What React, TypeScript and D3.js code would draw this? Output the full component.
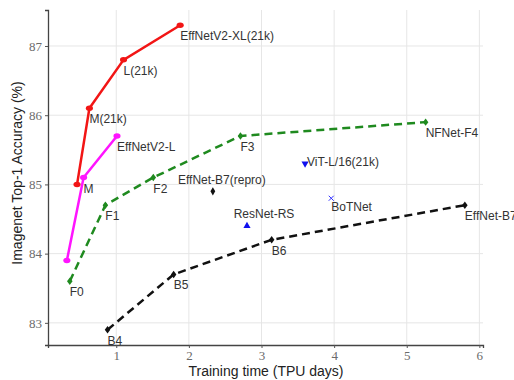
import React, { useEffect, useRef } from "react";
import * as d3 from "d3";

// values
const v2_21kLabels = ["", "M(21k)", "L(21k)", "EffNetV2-XL(21k)"];
const v2_21kX = [0.46, 0.63, 1.1, 1.88];
const v2_21kY = [85.0, 86.1, 86.8, 87.3];

const v2Labels = ["", "M", "EffNetV2-L"];
const v2X = [0.32, 0.55, 1.01];
const v2Y = [83.9, 85.1, 85.7];

const nfnetLabels = ["F0", "F1", "F2", "F3", "NFNet-F4"];
const nfnetX = [0.36, 0.85, 1.51, 2.71, 5.26];
const nfnetY = [83.6, 84.7, 85.1, 85.7, 85.9];

const effnetLabels = ["B4", "B5", "B6", "EffNet-B7"];
const effnetX = [0.88, 1.79, 3.14, 5.8];
const effnetY = [82.9, 83.7, 84.2, 84.7];

const otherLabels = ["EffNet-B7(repro)", "ResNet-RS", "ViT-L/16(21k)", "BoTNet"];
const otherX = [2.33, 2.8, 3.6, 3.96];
const otherY = [84.9, 84.4, 85.3, 84.8];

const xTicks = [1, 2, 3, 4, 5, 6];
const yTicks = [83, 84, 85, 86, 87];

const App = () => {
  const svgRef = useRef<SVGSVGElement>(null);

  useEffect(() => {
    const svg = d3.select(svgRef.current);
    svg.selectAll("*").remove();

    const left = 48, right = 483, top = 10, bottom = 345;

    const x = d3.scaleLinear().domain([0.06, 6.05]).range([left, right]);
    const y = d3.scaleLinear().domain([82.68, 87.52]).range([bottom, top]);

    const sans = "'Liberation Sans', Arial, sans-serif";
    const serif = "'Liberation Serif', 'Times New Roman', serif";

    // grid
    svg.append("g")
      .selectAll("line")
      .data(xTicks)
      .join("line")
      .attr("x1", d => x(d)).attr("x2", d => x(d))
      .attr("y1", top).attr("y2", bottom)
      .attr("stroke", "#e6e6e6").attr("stroke-width", 1);
    svg.append("g")
      .selectAll("line")
      .data(yTicks)
      .join("line")
      .attr("x1", left).attr("x2", right)
      .attr("y1", d => y(d)).attr("y2", d => y(d))
      .attr("stroke", "#e6e6e6").attr("stroke-width", 1);

    // axes
    const xAxis = svg.append("g")
      .attr("transform", `translate(0,${bottom})`)
      .call(d3.axisBottom(x).tickValues(xTicks).tickSize(3).tickPadding(3).tickFormat(d3.format("d")));
    const yAxis = svg.append("g")
      .attr("transform", `translate(${left},0)`)
      .call(d3.axisLeft(y).tickValues(yTicks).tickSize(3).tickPadding(3).tickFormat(d3.format("d")));
    [xAxis, yAxis].forEach(g => {
      g.select(".domain").attr("stroke", "#444").attr("stroke-width", 1.3);
      g.selectAll(".tick line").attr("stroke", "#555");
      g.selectAll(".tick text")
        .attr("fill", "#6b6b6b")
        .style("font-family", serif)
        .style("font-size", "13px");
    });

    const line = d3.line<[number, number]>()
      .x(d => x(d[0]))
      .y(d => y(d[1]));

    const series = [
      { xs: v2_21kX, ys: v2_21kY, labels: v2_21kLabels, color: "#f21515", dash: null, sym: d3.symbolCircle, size: 30 },
      { xs: v2X, ys: v2Y, labels: v2Labels, color: "#ff14ff", dash: null, sym: d3.symbolCircle, size: 30 },
      { xs: nfnetX, ys: nfnetY, labels: nfnetLabels, color: "#1f8a1f", dash: "8,5", sym: d3.symbolDiamond, size: 20 },
      { xs: effnetX, ys: effnetY, labels: effnetLabels, color: "#111", dash: "8,5", sym: d3.symbolDiamond, size: 20 },
    ];

    series.forEach(s => {
      const pts: [number, number][] = s.xs.map((v, i) => [v, s.ys[i]]);
      svg.append("path")
        .datum(pts)
        .attr("fill", "none")
        .attr("stroke", s.color)
        .attr("stroke-width", 2.5)
        .attr("stroke-dasharray", s.dash)
        .attr("d", line);
      svg.append("g")
        .selectAll("path")
        .data(pts)
        .join("path")
        .attr("transform", d => `translate(${x(d[0])},${y(d[1])}) scale(1.15,0.9)`)
        .attr("d", d3.symbol().type(s.sym).size(s.size)())
        .attr("fill", s.color);
      svg.append("g")
        .selectAll("text")
        .data(pts)
        .join("text")
        .attr("x", d => x(d[0]))
        .attr("y", d => y(d[1]) + 15)
        .attr("fill", "#333")
        .style("font-family", sans)
        .style("font-size", "12px")
        .text((d, i) => s.labels[i]);
    });

    // single models
    const otherSyms = [d3.symbolDiamond, d3.symbolTriangle, d3.symbolTriangle, d3.symbolCross];
    const otherColors = ["#111", "#1010ee", "#1010ee", "#3030ff"];
    otherX.forEach((v, i) => {
      const px = x(v), py = y(otherY[i]);
      if (i === 3) {
        svg.append("path")
          .attr("d", `M${px - 2.5},${py - 2.5}L${px + 2.5},${py + 2.5}M${px - 2.5},${py + 2.5}L${px + 2.5},${py - 2.5}`)
          .attr("stroke", otherColors[i]).attr("stroke-width", 1);
      } else {
        svg.append("path")
          .attr("transform", `translate(${px},${py})${i === 2 ? " rotate(180)" : ""}`)
          .attr("d", d3.symbol().type(otherSyms[i]).size(i === 0 ? 20 : 22)())
          .attr("fill", otherColors[i]);
      }
    });
    const labelPos = [
      { dx: 9, dy: -7, anchor: "middle" },
      { dx: 17, dy: -8, anchor: "middle" },
      { dx: 2, dy: 2, anchor: "start" },
      { dx: 0, dy: 13, anchor: "start" },
    ];
    svg.append("g")
      .selectAll("text")
      .data(otherLabels)
      .join("text")
      .attr("x", (d, i) => x(otherX[i]) + labelPos[i].dx)
      .attr("y", (d, i) => y(otherY[i]) + labelPos[i].dy)
      .attr("text-anchor", (d, i) => labelPos[i].anchor)
      .attr("fill", "#333")
      .style("font-family", sans)
      .style("font-size", "12px")
      .text(d => d);

    // titles
    svg.append("text")
      .attr("x", 266)
      .attr("y", 376)
      .attr("text-anchor", "middle")
      .attr("fill", "#222")
      .style("font-family", sans)
      .style("font-size", "14px")
      .text("Training time (TPU days)");
    svg.append("text")
      .attr("transform", `translate(22,173) rotate(-90)`)
      .attr("text-anchor", "middle")
      .attr("fill", "#222")
      .style("font-family", sans)
      .style("font-size", "14px")
      .text("Imagenet Top-1 Accuracy (%)");
  }, []);

  return (
    <svg ref={svgRef} width={514} height={380}
      style={{ position: "absolute", left: 0, top: 0, background: "#fff" }}></svg>
  );
};

export default App;
